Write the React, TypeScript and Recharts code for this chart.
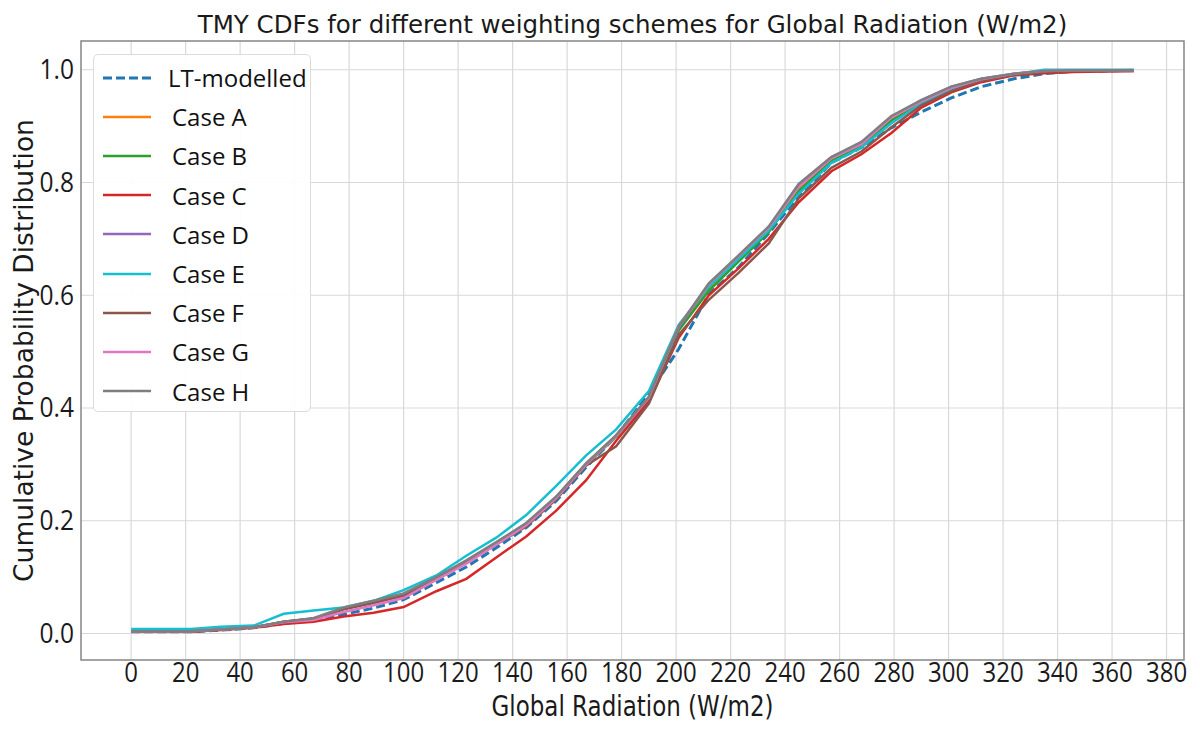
import React from 'react'
import {
  LineChart,
  Line,
  XAxis,
  YAxis,
  CartesianGrid,
  Legend,
  ReferenceArea
} from 'recharts'

// radiation bins (W/m2)
const xValues = [0, 11, 22, 33, 45, 56, 67, 78, 89, 100, 112, 123, 134, 145, 156, 167, 178, 190, 201, 212, 223, 234, 245, 257, 268, 279, 290, 301, 312, 324, 335, 346, 357, 368]

const ltModelled = [0.003, 0.003, 0.003, 0.006, 0.010, 0.018, 0.024, 0.034, 0.045, 0.060, 0.090, 0.118, 0.152, 0.188, 0.235, 0.295, 0.350, 0.425, 0.505, 0.602, 0.650, 0.710, 0.775, 0.835, 0.862, 0.897, 0.925, 0.950, 0.970, 0.984, 0.993, 0.997, 0.998, 0.999]
const caseA = [0.004, 0.004, 0.004, 0.007, 0.011, 0.020, 0.026, 0.044, 0.056, 0.069, 0.099, 0.127, 0.160, 0.194, 0.241, 0.300, 0.350, 0.418, 0.540, 0.612, 0.662, 0.714, 0.788, 0.840, 0.866, 0.912, 0.942, 0.966, 0.982, 0.992, 0.998, 0.999, 0.999, 0.999]
const caseB = [0.004, 0.004, 0.004, 0.007, 0.011, 0.020, 0.026, 0.044, 0.056, 0.069, 0.098, 0.126, 0.159, 0.193, 0.240, 0.299, 0.349, 0.417, 0.538, 0.608, 0.660, 0.712, 0.785, 0.838, 0.865, 0.910, 0.941, 0.965, 0.981, 0.992, 0.997, 0.999, 0.999, 0.999]
const caseC = [0.003, 0.003, 0.003, 0.006, 0.010, 0.017, 0.021, 0.030, 0.037, 0.047, 0.075, 0.097, 0.135, 0.172, 0.218, 0.272, 0.342, 0.412, 0.525, 0.600, 0.648, 0.700, 0.765, 0.820, 0.850, 0.888, 0.933, 0.960, 0.978, 0.990, 0.994, 0.996, 0.997, 0.998]
const caseD = [0.004, 0.004, 0.004, 0.007, 0.011, 0.021, 0.027, 0.045, 0.057, 0.070, 0.099, 0.128, 0.161, 0.195, 0.242, 0.301, 0.351, 0.419, 0.543, 0.618, 0.668, 0.720, 0.797, 0.845, 0.870, 0.916, 0.946, 0.970, 0.984, 0.993, 0.998, 0.999, 0.999, 0.999]
const caseE = [0.008, 0.008, 0.008, 0.012, 0.014, 0.035, 0.041, 0.046, 0.058, 0.077, 0.103, 0.138, 0.170, 0.210, 0.262, 0.316, 0.362, 0.430, 0.548, 0.615, 0.665, 0.715, 0.780, 0.835, 0.862, 0.905, 0.940, 0.965, 0.982, 0.992, 1.000, 1.000, 1.000, 1.000]
const caseF = [0.004, 0.004, 0.004, 0.007, 0.011, 0.021, 0.026, 0.043, 0.054, 0.067, 0.097, 0.125, 0.158, 0.190, 0.238, 0.298, 0.332, 0.408, 0.530, 0.592, 0.640, 0.692, 0.772, 0.826, 0.855, 0.898, 0.937, 0.962, 0.980, 0.991, 0.996, 0.998, 0.998, 0.998]
const caseG = [0.004, 0.004, 0.004, 0.007, 0.011, 0.020, 0.024, 0.038, 0.050, 0.063, 0.095, 0.124, 0.158, 0.192, 0.240, 0.300, 0.350, 0.418, 0.545, 0.620, 0.670, 0.720, 0.792, 0.843, 0.868, 0.915, 0.944, 0.968, 0.983, 0.993, 0.998, 0.999, 0.999, 0.999]
const caseH = [0.004, 0.004, 0.004, 0.007, 0.011, 0.021, 0.027, 0.046, 0.058, 0.071, 0.100, 0.130, 0.162, 0.196, 0.243, 0.302, 0.352, 0.420, 0.545, 0.621, 0.671, 0.722, 0.797, 0.845, 0.872, 0.918, 0.946, 0.970, 0.984, 0.993, 0.998, 0.999, 0.999, 0.999]

const xTicks = [0, 20, 40, 60, 80, 100, 120, 140, 160, 180, 200, 220, 240, 260, 280, 300, 320, 340, 360, 380]
const yTicks = [0, 0.2, 0.4, 0.6, 0.8, 1.0]

const series = [
  { key: 'lt', name: 'LT-modelled', values: ltModelled, color: '#1f77b4', dashed: true },
  { key: 'a', name: 'Case A', values: caseA, color: '#ff7f0e' },
  { key: 'b', name: 'Case B', values: caseB, color: '#2ca02c' },
  { key: 'c', name: 'Case C', values: caseC, color: '#d62728' },
  { key: 'd', name: 'Case D', values: caseD, color: '#9467bd' },
  { key: 'e', name: 'Case E', values: caseE, color: '#17becf' },
  { key: 'f', name: 'Case F', values: caseF, color: '#8c564b' },
  { key: 'g', name: 'Case G', values: caseG, color: '#e377c2' },
  { key: 'h', name: 'Case H', values: caseH, color: '#7f7f7f' }
]

const data = xValues.map((x, i) => {
  const row: Record<string, number> = { x }
  series.forEach(s => { row[s.key] = s.values[i] })
  return row
})

const X_DOMAIN = [-18.4, 386.4]
const Y_DOMAIN = [-0.047, 1.051]

const TICK_FONT = '"Open Sans", sans-serif'
const LABEL_FONT = '"DejaVu Sans", sans-serif'

// text below the plot in the source is stretched vertically
const stretch = (x: number, y: number, k: number) =>
  `translate(${x},${y}) scale(1,${k}) translate(${-x},${-y})`

const XTick = ({ x, y, payload }: any) => {
  const base = y + 16.5
  return (
    <text x={x} y={base} textAnchor="middle" fontFamily={TICK_FONT} fontSize={24} fill="#1a1a1a" transform={stretch(x, base, 1.15)}>
      {payload.value}
    </text>
  )
}

const YTick = ({ x, y, payload }: any) => {
  const base = y + 9.5
  return (
    <text x={x} y={base} textAnchor="end" fontFamily={TICK_FONT} fontSize={24.5} fill="#1a1a1a" transform={stretch(x, base, 1.1)}>
      {payload.value.toFixed(1)}
    </text>
  )
}

const XLabel = ({ viewBox }: any) => {
  const cx = viewBox.x + viewBox.width / 2
  const base = 716
  return (
    <text x={cx} y={base} textAnchor="middle" fontFamily={LABEL_FONT} fontSize={23} fill="#1a1a1a" transform={stretch(cx, base, 1.2)}>
      Global Radiation (W/m2)
    </text>
  )
}

const LegendBox = () => (
  <div
    style={{
      width: 218,
      height: 358,
      background: 'rgba(255,255,255,0.92)',
      border: '1px solid #dcdcdc',
      borderRadius: 5,
      boxSizing: 'border-box',
      paddingTop: 3
    }}
  >
    {series.map(s => (
      <div key={s.key} style={{ display: 'flex', alignItems: 'center', height: 39.2 }}>
        <svg width={60} height={10} style={{ marginLeft: 8 }}>
          <line
            x1={1}
            y1={5}
            x2={49}
            y2={5}
            stroke={s.color}
            strokeWidth={s.dashed ? 3 : 2.5}
            strokeDasharray={s.dashed ? '9 4' : undefined}
          />
        </svg>
        <span style={{ fontFamily: TICK_FONT, fontSize: 24, color: '#111', marginLeft: s.dashed ? 6 : 10 }}>
          {s.name}
        </span>
      </div>
    ))}
  </div>
)

export default function App() {
  return (
    <div style={{ position: 'absolute', left: 0, top: 0, width: 1200, height: 731, background: '#fff' }}>
      <div
        style={{
          position: 'absolute',
          left: 81,
          width: 1103,
          top: 10,
          textAlign: 'center',
          fontFamily: LABEL_FONT,
          fontSize: 24.5,
          color: '#1a1a1a',
          whiteSpace: 'nowrap'
        }}
      >
        TMY CDFs for different weighting schemes for Global Radiation (W/m2)
      </div>
      <LineChart width={1200} height={731} data={data} margin={{ top: 41, right: 16, bottom: 0, left: 0 }}>
        <CartesianGrid stroke="#d9d9d9" strokeWidth={1.2} horizontalValues={yTicks} verticalValues={xTicks} />
        <XAxis
          dataKey="x"
          type="number"
          domain={X_DOMAIN}
          ticks={xTicks}
          allowDataOverflow
          height={71}
          tickLine={false}
          tickSize={0}
          tickMargin={6}
          axisLine={false}
          tick={<XTick />}
          label={{ content: <XLabel /> }}
        />
        <YAxis
          type="number"
          domain={Y_DOMAIN}
          ticks={yTicks}
          allowDataOverflow
          width={81}
          tickLine={false}
          tickSize={0}
          tickMargin={7}
          axisLine={false}
          tick={<YTick />}
          label={{
            value: 'Cumulative Probability Distribution',
            angle: -90,
            position: 'insideLeft',
            offset: 24,
            style: { fontFamily: LABEL_FONT, fontSize: 26.5, fill: '#1a1a1a', textAnchor: 'middle' }
          }}
        />
        <ReferenceArea
          x1={X_DOMAIN[0]}
          x2={X_DOMAIN[1]}
          y1={Y_DOMAIN[0]}
          y2={Y_DOMAIN[1]}
          fill="none"
          stroke="#858585"
          strokeWidth={1.5}
        />
        {series.map(s => (
          <Line
            key={s.key}
            dataKey={s.key}
            name={s.name}
            type="linear"
            stroke={s.color}
            strokeWidth={s.dashed ? 3 : 2.5}
            strokeDasharray={s.dashed ? '9 4' : undefined}
            dot={false}
            activeDot={false}
            isAnimationActive={false}
          />
        ))}
        <Legend
          layout="vertical"
          align="center"
          verticalAlign="middle"
          content={<LegendBox />}
          wrapperStyle={{ position: 'absolute', left: 93, top: 54, width: 218, height: 358 }}
        />
      </LineChart>
    </div>
  )
}
